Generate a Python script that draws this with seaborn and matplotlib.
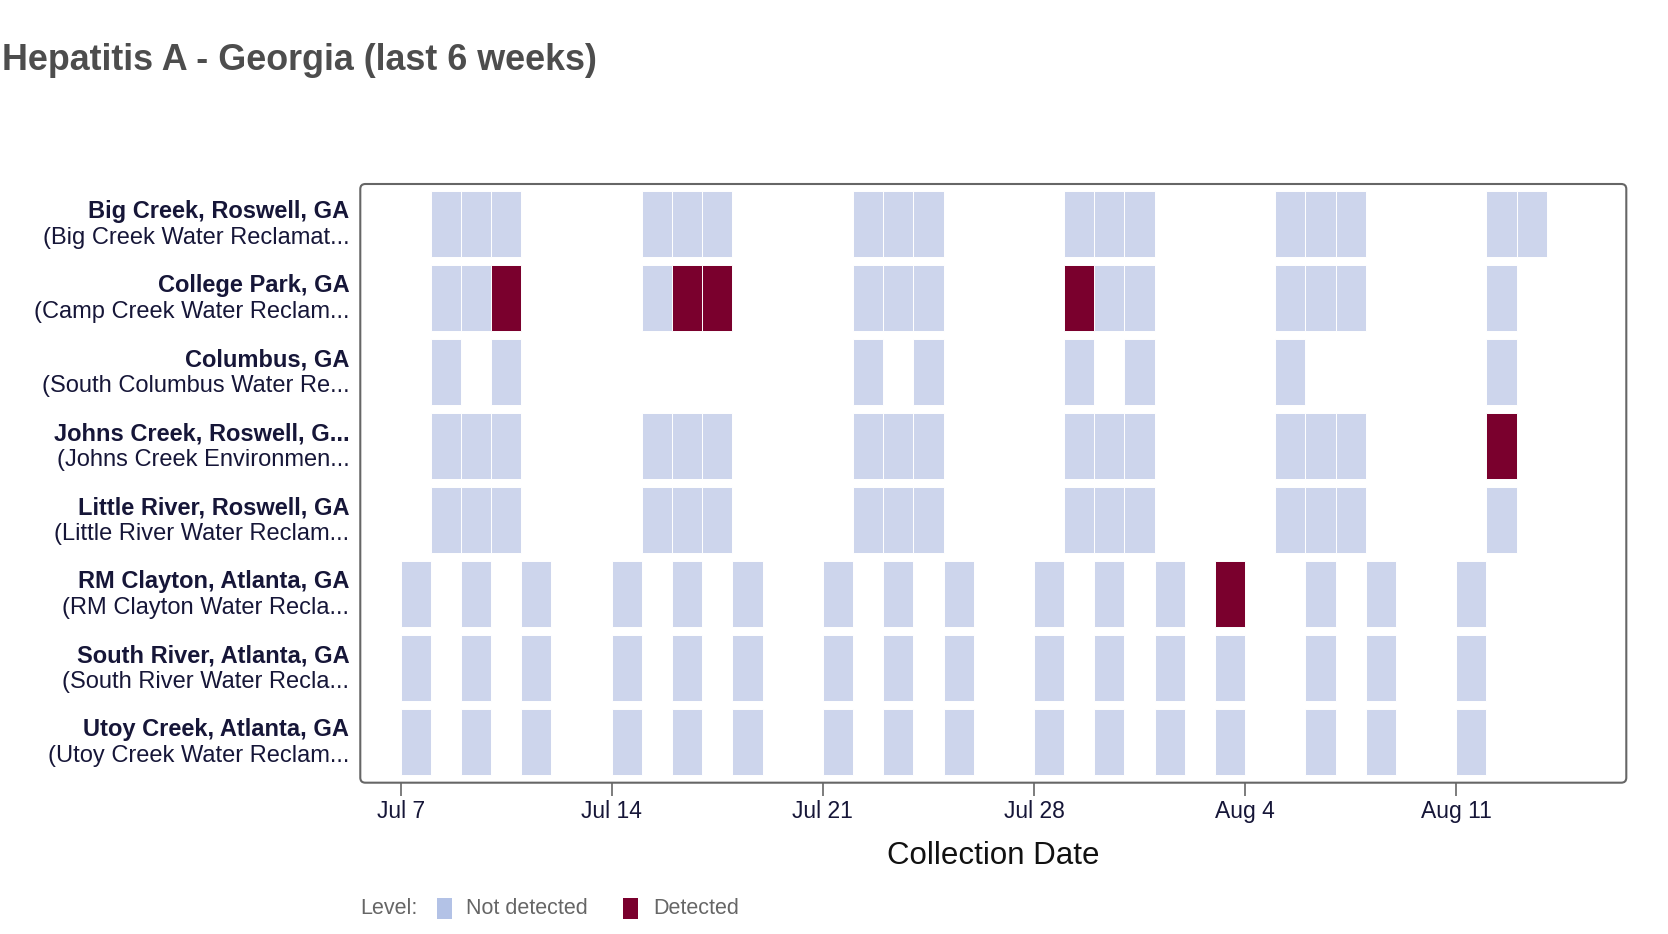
"""Hepatitis A wastewater detections, Georgia, last 6 weeks."""

import matplotlib

matplotlib.use("Agg")

import matplotlib.dates as mdates
import matplotlib.pyplot as plt
import pandas as pd
import seaborn as sns
from matplotlib.patches import FancyBboxPatch, Rectangle

# ---- data -------------------------------------------------------------------
SITES = [
    "Big Creek, Roswell, GA",
    "College Park, GA",
    "Columbus, GA",
    "Johns Creek, Roswell, G...",
    "Little River, Roswell, GA",
    "RM Clayton, Atlanta, GA",
    "South River, Atlanta, GA",
    "Utoy Creek, Atlanta, GA",
]
PLANTS = [
    "(Big Creek Water Reclamat...",
    "(Camp Creek Water Reclam...",
    "(South Columbus Water Re...",
    "(Johns Creek Environmen...",
    "(Little River Water Reclam...",
    "(RM Clayton Water Recla...",
    "(South River Water Recla...",
    "(Utoy Creek Water Reclam...",
]

BIG_CREEK = ["07-08", "07-09", "07-10", "07-15", "07-16", "07-17", "07-22", "07-23", "07-24",
             "07-29", "07-30", "07-31", "08-05", "08-06", "08-07", "08-12", "08-13"]
COLLEGE_PARK = ["07-08", "07-09", "07-10", "07-15", "07-16", "07-17", "07-22", "07-23", "07-24",
                "07-29", "07-30", "07-31", "08-05", "08-06", "08-07", "08-12"]
COLUMBUS = ["07-08", "07-10", "07-22", "07-24", "07-29", "07-31", "08-05", "08-12"]
JOHNS_CREEK = ["07-08", "07-09", "07-10", "07-15", "07-16", "07-17", "07-22", "07-23", "07-24",
               "07-29", "07-30", "07-31", "08-05", "08-06", "08-07", "08-12"]
LITTLE_RIVER = ["07-08", "07-09", "07-10", "07-15", "07-16", "07-17", "07-22", "07-23", "07-24",
                "07-29", "07-30", "07-31", "08-05", "08-06", "08-07", "08-12"]
RM_CLAYTON = ["07-07", "07-09", "07-11", "07-14", "07-16", "07-18", "07-21", "07-23", "07-25",
              "07-28", "07-30", "08-01", "08-03", "08-06", "08-08", "08-11"]
SOUTH_RIVER = ["07-07", "07-09", "07-11", "07-14", "07-16", "07-18", "07-21", "07-23", "07-25",
               "07-28", "07-30", "08-01", "08-03", "08-06", "08-08", "08-11"]
UTOY_CREEK = ["07-07", "07-09", "07-11", "07-14", "07-16", "07-18", "07-21", "07-23", "07-25",
              "07-28", "07-30", "08-01", "08-03", "08-06", "08-08", "08-11"]

SAMPLE_DATES = [BIG_CREEK, COLLEGE_PARK, COLUMBUS, JOHNS_CREEK,
                LITTLE_RIVER, RM_CLAYTON, SOUTH_RIVER, UTOY_CREEK]
DETECTED = {
    "College Park, GA": ["07-10", "07-16", "07-17", "07-29"],
    "Johns Creek, Roswell, G...": ["08-12"],
    "RM Clayton, Atlanta, GA": ["08-03"],
}

YEAR = 2024
TICK_DATES = ["07-07", "07-14", "07-21", "07-28", "08-04", "08-11"]
LEVELS = ["Not detected", "Detected"]

# ---- style -------------------------------------------------------------------
COLORS = {"Not detected": "#cdd5ec", "Detected": "#7a002d"}
LEGEND_COLORS = {"Not detected": "#b3c2e6", "Detected": "#7a002d"}
LABEL_COLOR = "#161638"
GREY = "#666666"

sns.set_theme(style="white")
plt.rcParams["font.family"] = ["Liberation Sans", "DejaVu Sans"]


def to_day(md: str) -> float:
    return mdates.date2num(pd.Timestamp(f"{YEAR}-{md}"))


rows = []
for i, (site, dates) in enumerate(zip(SITES, SAMPLE_DATES)):
    hits = DETECTED.get(site, [])
    for d in dates:
        rows.append({"site": site, "row": i, "day": to_day(d),
                     "level": "Detected" if d in hits else "Not detected"})
samples = pd.DataFrame(rows)

fig = plt.figure(figsize=(16.68, 9.34), dpi=100)
ax = fig.add_axes([0.216, 0.162, 0.759, 0.641])

CELL_H = 0.89
for level in LEVELS:
    sub = samples[samples["level"] == level]
    ax.bar(sub["day"], CELL_H, width=1.0, bottom=sub["row"] - CELL_H / 2,
           align="edge", color=COLORS[level], edgecolor="white", linewidth=0.7)

ax.set_xlim(to_day("07-07") - 1.34, to_day("07-07") + 40.64)
ax.set_ylim(len(SITES) - 1 + 0.545, -0.545)

ax.set_xticks([to_day(t) for t in TICK_DATES])
ax.xaxis.set_major_formatter(mdates.DateFormatter("%b %-d"))
ax.tick_params(axis="x", length=9, width=1.2, color=GREY, direction="out",
               pad=3.5, labelsize=16.5, labelcolor=LABEL_COLOR, bottom=True)
ax.set_yticks([])
ax.grid(False)
for spine in ax.spines.values():
    spine.set_visible(False)

# rounded frame
w_px, h_px = 0.759 * 1668, 0.641 * 934
frame = FancyBboxPatch((0, 0), 1, 1, boxstyle="round,pad=0,rounding_size=0.004",
                       mutation_aspect=w_px / h_px, transform=ax.transAxes,
                       fill=False, edgecolor=GREY, linewidth=1.5, clip_on=False, zorder=5)
ax.add_patch(frame)

# two-line y labels: bold site name, regular plant name
for i, (site, plant) in enumerate(zip(SITES, PLANTS)):
    ax.annotate(site, xy=(0, i), xycoords=("axes fraction", "data"),
                xytext=(-11, 12.5), textcoords="offset pixels", ha="right", va="center",
                fontsize=17, fontweight="bold", color=LABEL_COLOR)
    ax.annotate(plant, xy=(0, i), xycoords=("axes fraction", "data"),
                xytext=(-11, -14), textcoords="offset pixels", ha="right", va="center",
                fontsize=17, color=LABEL_COLOR)

fig.text(0.001, 0.925, "Hepatitis A - Georgia (last 6 weeks)", ha="left", va="baseline",
         fontsize=25.8, fontweight="bold", color="#4d4d4d")
fig.text(0.5955, 0.084, "Collection Date", ha="center", va="center",
         fontsize=22.5, color="#111111")

# legend row
leg_y = 0.027
fig.text(360 / 1668, leg_y, "Level:", ha="left", va="center", fontsize=15.5, color=GREY)
for level, x_sq, x_txt in [("Not detected", 437, 466), ("Detected", 623, 653)]:
    fig.patches.append(Rectangle((x_sq / 1668, leg_y - 10.5 / 934), 15 / 1668, 21 / 934,
                                 transform=fig.transFigure, facecolor=LEGEND_COLORS[level],
                                 edgecolor="none"))
    fig.text(x_txt / 1668, leg_y, level, ha="left", va="center", fontsize=15.5, color=GREY)

fig.savefig("out.png", dpi=100)
